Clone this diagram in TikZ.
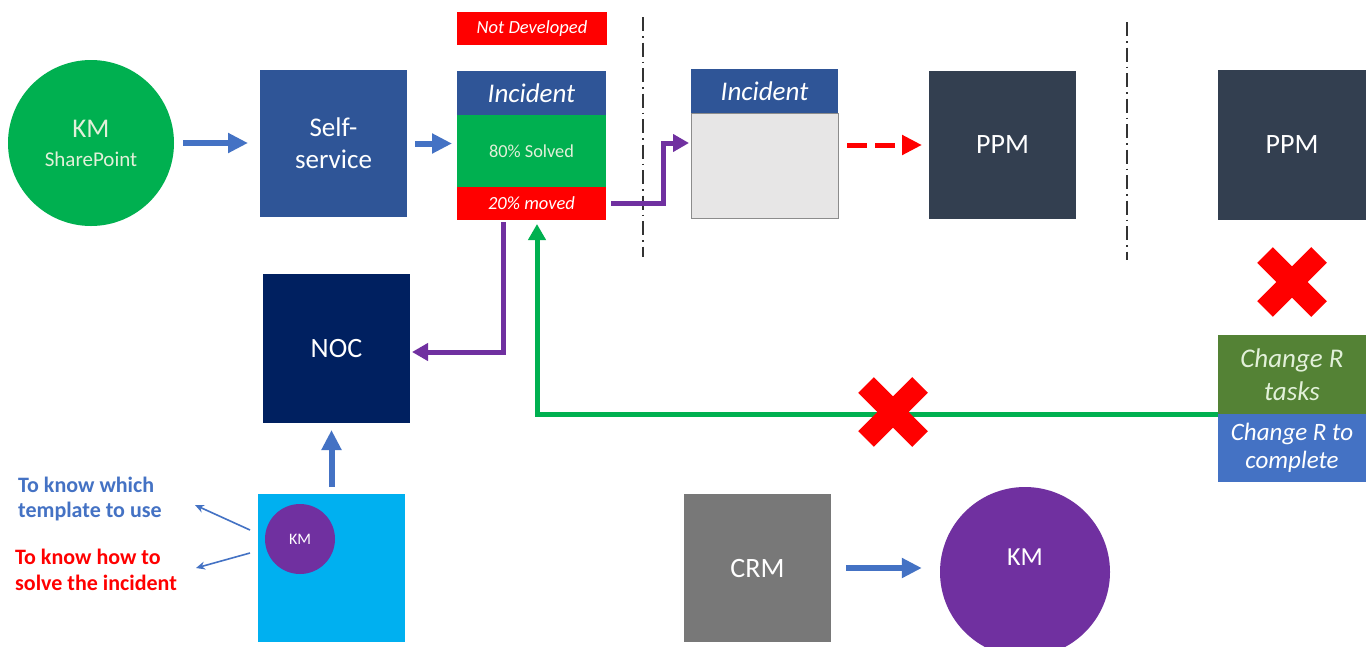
\documentclass[tikz,border=0pt]{standalone}
\usepackage{fontspec}
\setmainfont{Carlito}
\usetikzlibrary{arrows.meta,calc}
\definecolor{ssblue}{HTML}{2F5597}
\definecolor{kmgreen}{HTML}{00B050}
\definecolor{kmpurple}{HTML}{7030A0}
\definecolor{arrowblue}{HTML}{4472C4}
\definecolor{ppmgray}{HTML}{333F50}
\definecolor{nocnavy}{HTML}{002060}
\definecolor{skyblue}{HTML}{00B0F0}
\definecolor{crmgray}{HTML}{787878}
\definecolor{lightgray}{HTML}{E7E6E6}
\definecolor{chggreen}{HTML}{548235}
\definecolor{palegreen}{HTML}{E2F0D9}
\definecolor{xred}{HTML}{FF0000}
\begin{document}
\begin{tikzpicture}[x=1pt,y=-1pt,
  box/.style={rectangle, inner sep=0pt, outer sep=0pt, anchor=north west, align=center, text=white, font=\fontsize{28}{33}\selectfont},
  bluearrow/.style={draw=arrowblue, line width=6pt, -{Triangle[length=20pt,width=19pt]}},
  purplearrow/.style={draw=kmpurple, line width=5pt, -{Triangle[length=16pt,width=17pt]}},
  greenarrow/.style={draw=kmgreen, line width=5pt, -{Triangle[length=16pt,width=17pt]}},
  reddash/.style={draw=xred, line width=5pt, dash pattern=on 20pt off 8pt, -{Triangle[length=20pt,width=19pt]}},
  thinarrow/.style={draw=arrowblue, line width=1.6pt, -{Stealth[length=9pt,width=8pt]}},
  divider/.style={draw=black!80, line width=1.5pt, dash pattern=on 14pt off 5pt on 1.5pt off 5pt},
  xmark/.style={draw=xred, line width=22pt, line cap=butt},
]
\fill[white] (0,0) rectangle (1372,646);
\useasboundingbox (0,0) rectangle (1372,646);
\clip (0,0) rectangle (1372,646);

% dividers
\draw[divider] (643,17) -- (643,257);
\draw[divider] (1127,22) -- (1127,260);

% KM SharePoint circle
\node[circle, fill=kmgreen, minimum size=166pt, inner sep=0pt, align=center, text=palegreen, font=\fontsize{21}{29}\selectfont] (kmsp) at (91,143)
  {{\fontsize{27}{30}\selectfont KM}\\SharePoint};

% Self-service
\node[box, fill=ssblue, minimum width=147pt, minimum height=147pt, font=\fontsize{27}{32}\selectfont] (self) at (260,70) {Self-\\service};

% Not developed
\node[box, fill=xred, minimum width=150pt, minimum height=33pt, font=\fontsize{18.5}{22}\selectfont\itshape] (notdev) at (457,12) {Not Developed};

% Incident 1
\node[box, fill=ssblue, minimum width=149pt, minimum height=44pt, font=\fontsize{27}{32}\selectfont\itshape] (inchead) at (457,71) {Incident};
\node[box, fill=kmgreen, minimum width=149pt, minimum height=72pt, text=palegreen, font=\fontsize{18.3}{22}\selectfont] (incmid) at (457,115) {80\% Solved};
\node[box, fill=xred, minimum width=149pt, minimum height=33pt, font=\fontsize{18.5}{22}\selectfont\itshape] (incR) at (457,187) {20\% moved};

% Incident 2
\node[box, fill=lightgray, draw=black!45, line width=0.8pt, minimum width=147pt, minimum height=105pt] (inc2b) at (691,113) {};
\node[box, fill=ssblue, minimum width=147pt, minimum height=44pt, font=\fontsize{27}{32}\selectfont\itshape] (inc2head) at (691,69) {Incident};

% PPM boxes
\node[box, fill=ppmgray, minimum width=147pt, minimum height=148pt] (ppm1) at (929,71) {PPM};
\node[box, fill=ppmgray, minimum width=148pt, minimum height=150pt] (ppm2) at (1218,70) {PPM};

% Change R
\node[box, fill=chggreen, minimum width=148pt, minimum height=79pt, text=palegreen, font=\fontsize{27}{33}\selectfont\itshape] (chgT) at (1218,335) {Change R\\tasks};
\node[box, fill=arrowblue, minimum width=148pt, minimum height=68pt, font=\fontsize{25}{28}\selectfont\itshape] (chgC) at (1218,414) {Change R to\\complete};

% NOC
\node[box, fill=nocnavy, minimum width=147pt, minimum height=149pt] (noc) at (263,274) {NOC};

% template box with KM
\node[box, fill=skyblue, minimum width=147pt, minimum height=148pt] (tmpl) at (258,494) {};
\node[circle, fill=kmpurple, minimum size=70pt, inner sep=0pt, text=white, font=\fontsize{16}{19}\selectfont] (kms) at (300,539) {KM};

% CRM and KM
\node[box, fill=crmgray, minimum width=147pt, minimum height=148pt] (crm) at (684,494) {CRM};
\node[circle, fill=kmpurple, minimum size=170pt, inner sep=0pt, text=white, font=\fontsize{26}{30}\selectfont] (kmb) at (1025,572) {\raisebox{30pt}{KM}};

% labels
\node[anchor=west, align=left, text=arrowblue, font=\bfseries\fontsize{22}{25}\selectfont, inner sep=0pt] (lbla) at (18,499) {To know which\\template to use};
\node[anchor=west, align=left, text=xred, font=\bfseries\fontsize{22}{26}\selectfont, inner sep=0pt] (lblb) at (15,570) {To know how to\\solve the incident};

% connectors
\draw[bluearrow, shorten <=9pt, shorten >=12pt] (kmsp.east) -- (kmsp.east -| self.west);
\draw[bluearrow, shorten <=8pt, shorten >=5pt] (self.east) -- (self.east -| incmid.west);
\draw[purplearrow, shorten >=2pt] ([xshift=5pt]incR.east) -- ++(52,0) |- ([yshift=22.5pt]inc2b.west);
\draw[reddash, shorten <=9pt, shorten >=7pt] (inc2b.east |- ppm1.west) -- (ppm1.west);
\draw[purplearrow, shorten >=2pt] ([xshift=-28.5pt,yshift=-2pt]incR.south) |- ([yshift=-3.5pt]noc.east);
\draw[greenarrow] (chgT.south west) -| ([xshift=5.5pt,yshift=-4pt]incR.south);
\draw[bluearrow, shorten <=7pt, shorten >=7pt] (tmpl.north) -- (tmpl.north |- noc.south);
\draw[bluearrow, shorten <=15pt, shorten >=18pt] (crm.east) -- (crm.east -| kmb.west);
\coordinate (ta) at (195,505);
\coordinate (tb) at (196,568);
\draw[thinarrow] ([shift={(-8,-38)}]tmpl.west) -- (ta);
\draw[thinarrow] ([shift={(-8,-15)}]tmpl.west) -- (tb);

% red crosses
\coordinate (xa) at (1292,282);
\coordinate (xb) at (893,412);
\draw[xmark] ([shift={(-27,-27)}]xa) -- ([shift={(27,27)}]xa) ([shift={(-27,27)}]xa) -- ([shift={(27,-27)}]xa);
\draw[xmark] ([shift={(-27,-27)}]xb) -- ([shift={(27,27)}]xb) ([shift={(-27,27)}]xb) -- ([shift={(27,-27)}]xb);
\end{tikzpicture}
\end{document}
